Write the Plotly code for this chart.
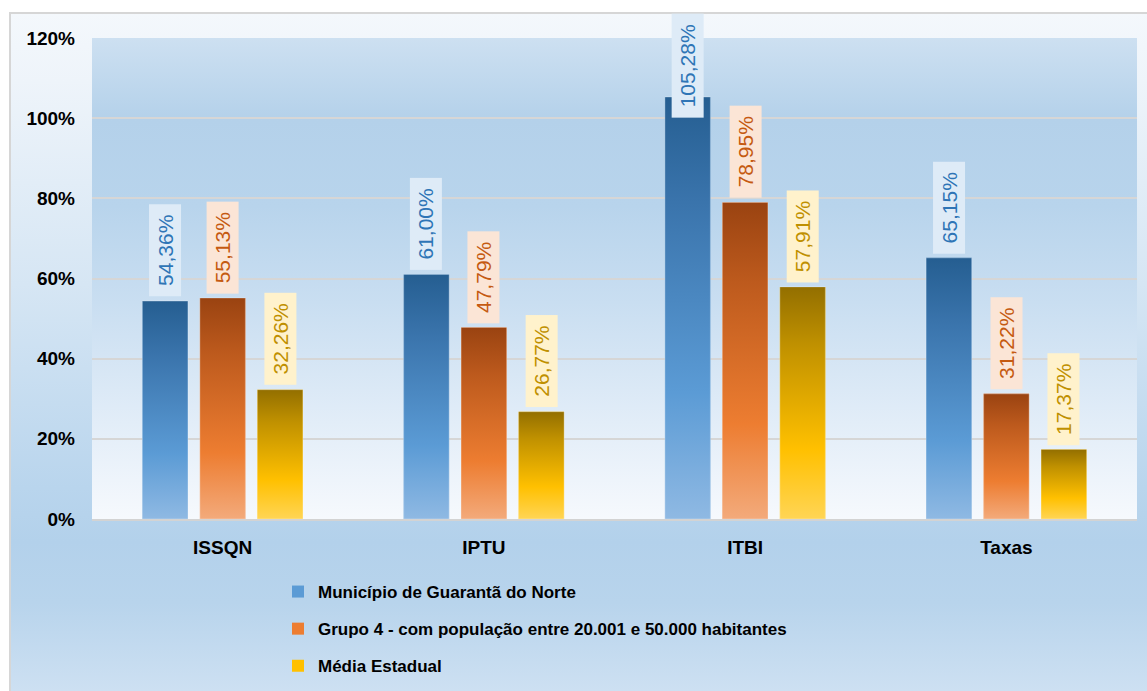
import base64
import plotly.graph_objects as go

# ---------------- data ----------------
categories = ["ISSQN", "IPTU", "ITBI", "Taxas"]
series_names = [
    "Município de Guarantã do Norte",
    "Grupo 4 - com população entre 20.001 e 50.000 habitantes",
    "Média Estadual",
]
municipio = [54.36, 61.00, 105.28, 65.15]
grupo4 = [55.13, 47.79, 78.95, 31.22]
media_estadual = [32.26, 26.77, 57.91, 17.37]
y_tickvals = [0, 20, 40, 60, 80, 100, 120]
y_ticktext = ["0%", "20%", "40%", "60%", "80%", "100%", "120%"]

series_values = [municipio, grupo4, media_estadual]

# ---------------- styles ----------------
solid = ["#5b9bd5", "#ed7d31", "#ffc000"]
gradients = [
    [[0, "#8fb9e3"], [0.3, "#5b9bd5"], [0.75, "#3a74ac"], [1, "#255e91"]],
    [[0, "#f3aa7b"], [0.3, "#ed7d31"], [0.75, "#bd5a1d"], [1, "#9a4311"]],
    [[0, "#ffd555"], [0.3, "#ffc000"], [0.75, "#c09100"], [1, "#936f00"]],
]
label_color = ["#2e75b6", "#c55a11", "#bf9000"]
label_bg = ["#deebf7", "#fbe5d6", "#fff2cc"]
offsets = [-0.22, 0.0, 0.22]
bar_w = 0.174

W, H = 1147, 691
ML, MR, MT, MB = 92, 10, 38, 172
plot_w = W - ML - MR
plot_h = H - MT - MB


def svg_gradient(stops):
    st = "".join(
        f'<stop offset="{o}" stop-color="{c}"/>' for o, c in stops
    )
    svg = (
        '<svg xmlns="http://www.w3.org/2000/svg" width="100" height="100" '
        'viewBox="0 0 100 100" preserveAspectRatio="none">'
        f'<defs><linearGradient id="g" x1="0" y1="0" x2="0" y2="1">{st}</linearGradient></defs>'
        '<rect x="0" y="0" width="100" height="100" fill="url(#g)"/></svg>'
    )
    return "data:image/svg+xml;base64," + base64.b64encode(svg.encode()).decode()


outer_stops = [(0, "#f4f8fc"), (0.1, "#eef4fa"), (0.4, "#d6e6f4"), (0.7, "#b9d5ed"),
               (0.78, "#b3d1eb"), (0.87, "#b8d4ec"), (1, "#cde0f2")]
plot_stops = [(0, "#cde0f1"), (0.17, "#b4d1ea"), (0.35, "#b8d4ec"), (0.55, "#c9def1"),
              (0.8, "#e2edf8"), (1, "#f6f9fd")]


def px_to_paper_x(px):
    return (px - ML) / plot_w


def px_to_paper_y(py):
    return (H - MB - py) / plot_h


fig = go.Figure()

# solid bars (legend + base)
for k in range(3):
    fig.add_trace(go.Bar(
        x=list(range(len(categories))),
        y=series_values[k],
        width=bar_w,
        offset=offsets[k] - bar_w / 2,
        name=series_names[k],
        marker=dict(color=solid[k], line=dict(width=0)),
        legendgroup=f"g{k}",
        hovertemplate="%{y:.2f}%<extra>" + series_names[k] + "</extra>",
    ))

# gradient overlays built from the same values
for k in range(3):
    for i, v in enumerate(series_values[k]):
        x0 = i + offsets[k] - bar_w / 2
        x1 = i + offsets[k] + bar_w / 2
        fig.add_trace(go.Scatter(
            x=[x0, x1, x1, x0, x0],
            y=[0, 0, v, v, 0],
            mode="lines",
            fill="toself",
            fillgradient=dict(type="vertical", colorscale=gradients[k]),
            line=dict(width=0.8, color="rgba(255,255,255,0.35)"),
            showlegend=False,
            hoverinfo="skip",
        ))

# data labels
annotations = []
for k in range(3):
    for i, v in enumerate(series_values[k]):
        txt = "\u00a0" + f"{v:.2f}".replace(".", ",") + "%" + "\u00a0"
        common = dict(
            x=i + offsets[k], xref="x", text=txt, textangle=-90, showarrow=False,
            font=dict(family="Liberation Sans, Arial, sans-serif", size=21, color=label_color[k]),
            bgcolor=label_bg[k], borderpad=4,
        )
        if v > 100:  # label does not fit above the bar: pinned at top of chart frame
            annotations.append(dict(**common, y=px_to_paper_y(13), yref="paper", yanchor="top"))
        else:
            annotations.append(dict(**common, y=v, yref="y", yanchor="bottom", yshift=4))

images = [
    dict(source=svg_gradient(outer_stops), xref="paper", yref="paper",
         x=px_to_paper_x(10), y=px_to_paper_y(13),
         sizex=(W - 10) / plot_w, sizey=(H - 13) / plot_h,
         sizing="stretch", xanchor="left", yanchor="top", layer="below"),
    dict(source=svg_gradient(plot_stops), xref="paper", yref="paper",
         x=0, y=1, sizex=1, sizey=1,
         sizing="stretch", xanchor="left", yanchor="top", layer="below"),
]

shapes = [
    dict(type="rect", xref="paper", yref="paper",
         x0=px_to_paper_x(10), x1=px_to_paper_x(W + 5),
         y0=px_to_paper_y(H + 5), y1=px_to_paper_y(13),
         line=dict(color="#d6d6d6", width=2), fillcolor="rgba(0,0,0,0)", layer="above"),
]

fig.update_layout(
    width=W, height=H,
    margin=dict(l=ML, r=MR, t=MT, b=MB, autoexpand=False),
    paper_bgcolor="white",
    plot_bgcolor="rgba(0,0,0,0)",
    barmode="overlay",
    images=images,
    shapes=shapes,
    annotations=annotations,
    font=dict(family="Liberation Sans, Arial, sans-serif", color="black"),
    legend=dict(
        x=px_to_paper_x(278), y=px_to_paper_y(574), xanchor="left", yanchor="top",
        orientation="v", bgcolor="rgba(0,0,0,0)", tracegroupgap=12,
        font=dict(family="Liberation Sans, Arial, sans-serif",
                  size=17, color="black", weight="bold"),
        itemclick=False, itemdoubleclick=False,
    ),
    xaxis=dict(
        range=[-0.5, len(categories) - 0.5],
        tickvals=list(range(len(categories))), ticktext=categories,
        showgrid=False, zeroline=False, showline=True, linecolor="#d3d3d3", linewidth=2,
        ticks="", ticklabelstandoff=10, automargin=False,
        tickfont=dict(size=19, weight="bold", color="black"),
    ),
    yaxis=dict(
        range=[0, 120], tickvals=y_tickvals, ticktext=y_ticktext,
        showgrid=True, gridcolor="#d6d6d6", gridwidth=2, zeroline=False,
        ticks="", ticklabelstandoff=16, automargin=False,
        tickfont=dict(size=19, weight="bold", color="black"),
    ),
    showlegend=True,
)

fig.write_html(
    "out.html",
    config={"displayModeBar": False},
    post_script="document.body.style.margin='0';document.body.style.padding='0';",
)
